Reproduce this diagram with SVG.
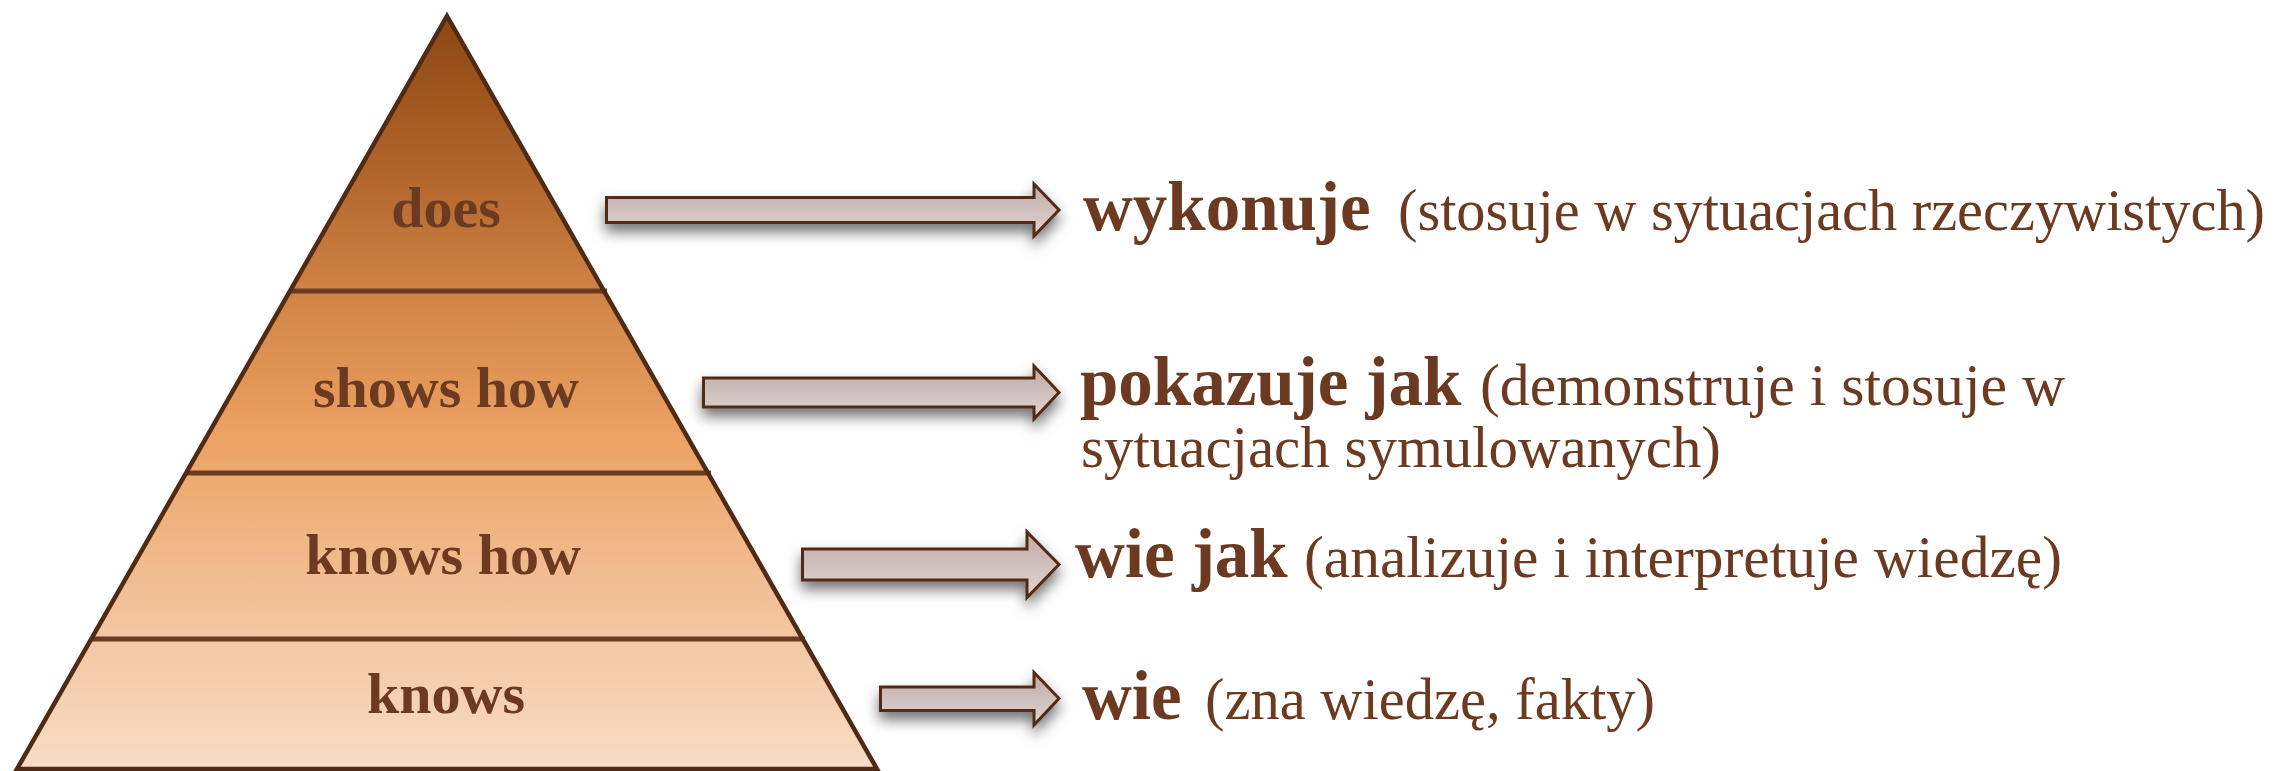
<svg xmlns="http://www.w3.org/2000/svg" width="2279" height="771" viewBox="0 0 2279 771">
  <style>
    .tier-label { font-family: "Liberation Serif", "Times New Roman", serif; font-weight: bold; font-size: 58px; fill: #6b3a20; text-anchor: middle; }
    .lead { font-family: "Liberation Serif", "Times New Roman", serif; font-weight: bold; font-size: 69px; fill: #6b3a20; }
    .note { font-family: "Liberation Serif", "Times New Roman", serif; font-weight: normal; font-size: 58.5px; fill: #6b3a20; }
    .divider { stroke: #6a3b20; stroke-width: 5; fill: none; }
    .outline { stroke: #4f2a14; stroke-width: 4.5; fill: none; stroke-linejoin: miter; }
    .arrow { fill: url(#arrowFill); stroke: #532a14; stroke-width: 3; filter: url(#arrowShadow); }
  </style>
  <defs>
    <linearGradient id="pyramidFill" gradientUnits="userSpaceOnUse" x1="0" y1="16" x2="0" y2="771">
      <stop offset="0" stop-color="#8c4712"/>
      <stop offset="0.2" stop-color="#b0642a"/>
      <stop offset="0.36" stop-color="#cf8244"/>
      <stop offset="0.55" stop-color="#eba161"/>
      <stop offset="0.73" stop-color="#f1bb8f"/>
      <stop offset="1" stop-color="#f8dcc6"/>
    </linearGradient>
    <linearGradient id="arrowFill" x1="0" y1="0" x2="0" y2="1">
      <stop offset="0" stop-color="#bfaaa5"/>
      <stop offset="0.5" stop-color="#cfc0bc"/>
      <stop offset="1" stop-color="#e0d5d2"/>
    </linearGradient>
    <filter id="arrowShadow" x="-10%" y="-60%" width="120%" height="240%">
      <feDropShadow dx="0" dy="8" stdDeviation="7" flood-color="#000" flood-opacity="0.55"/>
    </filter>
  </defs>

  <rect width="2279" height="771" fill="#ffffff"/>

  <!-- pyramid tiers -->
  <g id="tier-does">
    <polygon points="447,16 604,291 290,291" fill="url(#pyramidFill)"/>
    <text class="tier-label" x="446" y="227">does</text>
  </g>
  <g id="tier-shows-how">
    <polygon points="290,291 604,291 708,473 186,473" fill="url(#pyramidFill)"/>
    <text class="tier-label" x="446" y="407">shows how</text>
  </g>
  <g id="tier-knows-how">
    <polygon points="186,473 708,473 803,639 91,639" fill="url(#pyramidFill)"/>
    <text class="tier-label" x="443" y="574">knows how</text>
  </g>
  <g id="tier-knows">
    <polygon points="91,639 803,639 878,771 16,771" fill="url(#pyramidFill)"/>
    <text class="tier-label" x="446" y="713">knows</text>
  </g>

  <!-- pyramid outline and tier dividers -->
  <g id="pyramid-frame">
    <line class="divider" x1="290" y1="291" x2="607" y2="291"/>
    <line class="divider" x1="186" y1="473" x2="711" y2="473"/>
    <line class="divider" x1="91" y1="639" x2="805" y2="639"/>
    <polygon class="outline" points="447,16 877,769 17,769"/>
  </g>

  <!-- connectors -->
  <g id="connectors">
    <path class="arrow" d="M606.5,197.5 H1034 V184 L1059,210 L1034,236 V222.5 H606.5 Z"/>
    <path class="arrow" d="M703.5,378 H1034 V366 L1059,392.5 L1034,419 V407 H703.5 Z"/>
    <path class="arrow" d="M802.5,549 H1027 V532 L1059,564.5 L1027,597.5 V580 H802.5 Z"/>
    <path class="arrow" d="M880.5,687 H1034 V672.5 L1059,698.5 L1034,725 V710.5 H880.5 Z"/>
  </g>

  <!-- descriptions -->
  <g id="label-does">
    <text class="lead" x="1083" y="230">wykonuje</text>
    <text class="note" x="1398" y="230" textLength="867" lengthAdjust="spacingAndGlyphs">(stosuje w sytuacjach rzeczywistych)</text>
  </g>
  <g id="label-shows-how">
    <text class="lead" x="1080" y="405">pokazuje jak</text>
    <text class="note" x="1480" y="405" textLength="585" lengthAdjust="spacingAndGlyphs">(demonstruje i stosuje w</text>
    <text class="note" x="1081" y="467" textLength="640" lengthAdjust="spacingAndGlyphs">sytuacjach symulowanych)</text>
  </g>
  <g id="label-knows-how">
    <text class="lead" x="1075" y="577">wie jak</text>
    <text class="note" x="1304" y="577" textLength="758" lengthAdjust="spacingAndGlyphs">(analizuje i interpretuje wiedzę)</text>
  </g>
  <g id="label-knows">
    <text class="lead" x="1082" y="719">wie</text>
    <text class="note" x="1205" y="719" textLength="450" lengthAdjust="spacingAndGlyphs">(zna wiedzę, fakty)</text>
  </g>
</svg>
